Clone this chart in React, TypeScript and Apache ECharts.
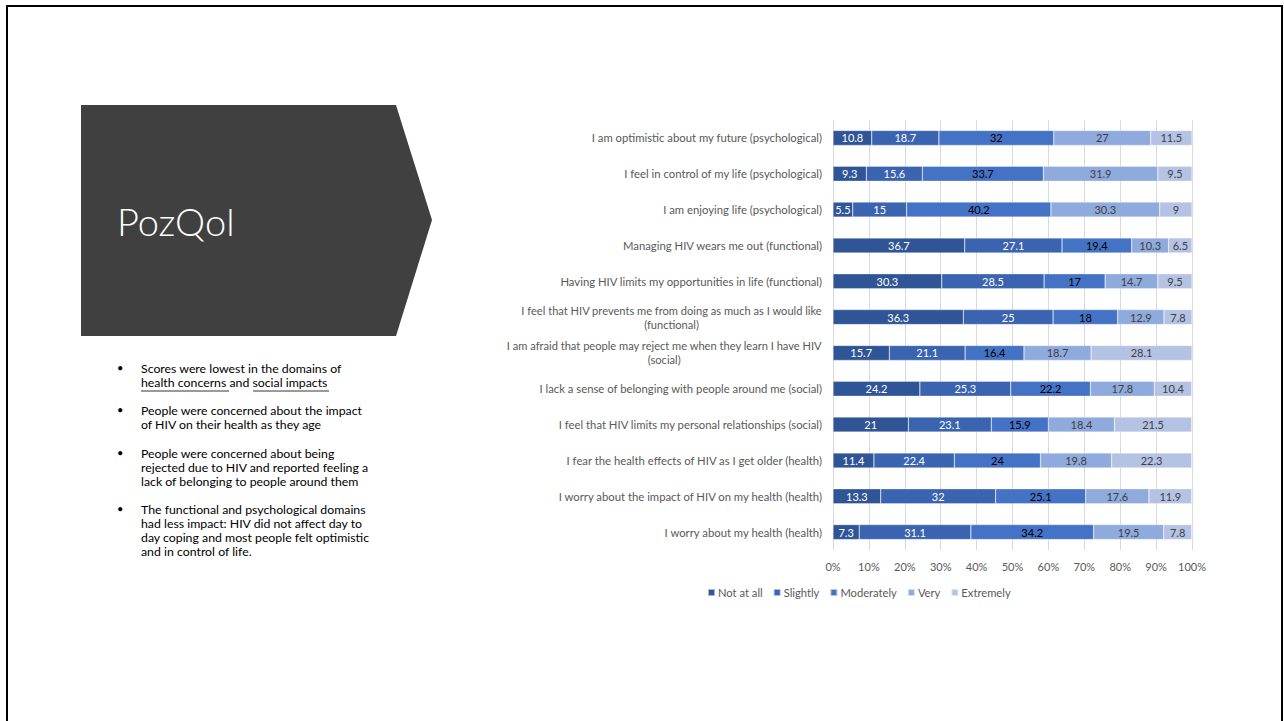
import React, { useEffect, useRef } from "react";
import * as echarts from "echarts";

const categories = [
  "I am optimistic about my future (psychological)",
  "I feel in control of my life (psychological)",
  "I am enjoying life (psychological)",
  "Managing HIV wears me out (functional)",
  "Having HIV limits my opportunities in life (functional)",
  "I feel that HIV prevents me from doing as much as I would like\n(functional)",
  "I am afraid that people may reject me when they learn I have HIV\n(social)",
  "I lack a sense of belonging with people around me (social)",
  "I feel that HIV limits my personal relationships (social)",
  "I fear the health effects of HIV as I get older (health)",
  "I worry about the impact of HIV on my health (health)",
  "I worry about my health (health)",
];

const notAtAll = [10.8, 9.3, 5.5, 36.7, 30.3, 36.3, 15.7, 24.2, 21, 11.4, 13.3, 7.3];
const slightly = [18.7, 15.6, 15, 27.1, 28.5, 25, 21.1, 25.3, 23.1, 22.4, 32, 31.1];
const moderately = [32, 33.7, 40.2, 19.4, 17, 18, 16.4, 22.2, 15.9, 24, 25.1, 34.2];
const very = [27, 31.9, 30.3, 10.3, 14.7, 12.9, 18.7, 17.8, 18.4, 19.8, 17.6, 19.5];
const extremely = [11.5, 9.5, 9, 6.5, 9.5, 7.8, 28.1, 10.4, 21.5, 22.3, 11.9, 7.8];

const seriesNames = ["Not at all", "Slightly", "Moderately", "Very", "Extremely"];
const seriesValues = [notAtAll, slightly, moderately, very, extremely];
const seriesColors = ["#2F5597", "#3A63B0", "#4472C4", "#8FAADC", "#B4C2E4"];
const labelColors = ["#FFFFFF", "#FFFFFF", "#000000", "#404040", "#404040"];

const title = "PozQol";
const bullets = [
  ["Scores were lowest in the domains of", "health concerns and social impacts"],
  ["People were concerned about the impact", "of HIV on their health as they age"],
  [
    "People were concerned about being",
    "rejected due to HIV and reported feeling a",
    "lack of belonging to people around them",
  ],
  [
    "The functional and psychological domains",
    "had less impact: HIV did not affect day to",
    "day coping and most people felt optimistic",
    "and in control of life.",
  ],
];

const FONT = "Lato, 'Open Sans', sans-serif";

export default function App() {
  const ref = useRef<HTMLDivElement>(null);

  useEffect(() => {
    if (!ref.current) return;
    const chart = echarts.init(ref.current, null, { renderer: "svg" });

    const bulletGraphics: any[] = [];
    const paraTops = [369, 411, 454, 510];
    bullets.forEach((lines, i) => {
      bulletGraphics.push({
        type: "text",
        left: 117,
        top: paraTops[i] - 7,
        style: { text: "•", font: `11px ${FONT}`, fill: "#000" },
      });
      lines.forEach((ln, j) => {
        bulletGraphics.push({
          type: "text",
          left: 141,
          top: paraTops[i] + j * 14 - 7,
          style: { text: ln, font: `12.3px ${FONT}`, fill: "#000" },
        });
      });
    });

    const option: any = {
      animation: false,
      backgroundColor: "#ffffff",
      textStyle: { fontFamily: FONT },
      graphic: [
        {
          type: "rect",
          shape: { x: 7, y: 6, width: 1275, height: 730 },
          style: { fill: "none", stroke: "#000", lineWidth: 2 },
        },
        {
          type: "polygon",
          shape: {
            points: [
              [81, 105],
              [396, 105],
              [432, 220],
              [396, 336],
              [81, 336],
            ],
          },
          style: { fill: "#404040" },
        },
        {
          type: "text",
          left: 117,
          top: 202,
          style: { text: title, font: `300 38px ${FONT}`, fill: "#ffffff" },
        },
        ...bulletGraphics,
        {
          type: "line",
          shape: { x1: 141, y1: 391, x2: 229, y2: 391 },
          style: { stroke: "#000", lineWidth: 0.8 },
        },
        {
          type: "line",
          shape: { x1: 253, y1: 391, x2: 329, y2: 391 },
          style: { stroke: "#000", lineWidth: 0.8 },
        },
      ],
      legend: {
        left: 702,
        top: 582,
        itemWidth: 7,
        itemHeight: 7,
        itemGap: 10,
        icon: "rect",
        textStyle: { fontSize: 11.2, color: "#595959", fontFamily: FONT, padding: [0, 0, 0, -2] },
        data: seriesNames,
      },
      grid: { left: 833, right: 92, top: 120, bottom: 171, containLabel: false },
      xAxis: {
        type: "value",
        min: 0,
        max: 100,
        interval: 10,
        axisLine: { show: false },
        axisTick: { show: false },
        splitLine: { show: true, lineStyle: { color: "#D9D9D9", width: 1 } },
        axisLabel: {
          formatter: "{value}%",
          color: "#595959",
          fontSize: 11,
          fontFamily: FONT,
          margin: 11,
        },
      },
      yAxis: {
        type: "category",
        inverse: true,
        data: categories,
        axisLine: { show: false },
        axisTick: { show: false },
        axisLabel: {
          color: "#595959",
          fontSize: 11.3,
          fontFamily: FONT,
          margin: 11,
          lineHeight: 14,
          formatter: (v: string) =>
            v.indexOf("\n") >= 0
              ? v
                  .split("\n")
                  .map((l) => `{c|${l}}`)
                  .join("\n")
              : v,
          rich: {
            c: { align: "center", color: "#595959", fontSize: 11.1, fontFamily: FONT, lineHeight: 14 },
          },
        },
      },
      series: seriesNames.map((name, i) => ({
        name,
        type: "bar",
        stack: "total",
        barWidth: 15,
        data: seriesValues[i],
        itemStyle: { color: seriesColors[i], borderColor: "rgba(255,255,255,0.6)", borderWidth: 0.5 },
        label: {
          show: true,
          position: "inside",
          color: labelColors[i],
          fontSize: 11,
          fontFamily: FONT,
        },
      })),
    };

    chart.setOption(option);
    return () => chart.dispose();
  }, []);

  return (
    <div
      ref={ref}
      style={{ position: "fixed", left: 0, top: 0, width: 1284, height: 721 }}
    />
  );
}
